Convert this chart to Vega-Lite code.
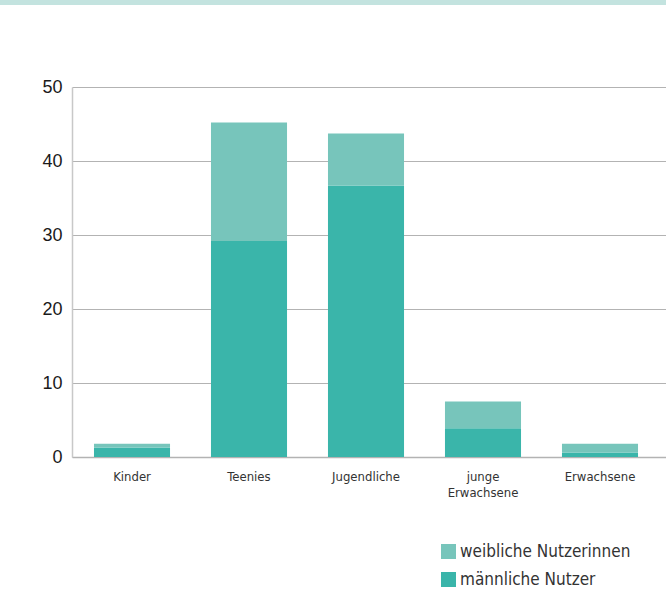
{
  "$schema": "https://vega.github.io/schema/vega-lite/v6.json",
  "autosize": {"type": "pad"},
  "padding": 0,
  "background": "white",
  "config": {
    "view": {"stroke": null},
    "font": "Liberation Sans"
  },
  "spacing": 73,
  "vconcat": [
    {
      "width": 594,
      "height": 5,
      "data": {"values": [{}]},
      "mark": {"type": "rect", "color": "#c3e3df", "clip": false},
      "encoding": {
        "x": {"datum": 0, "type": "quantitative", "scale": {"domain": [0, 1], "nice": false, "range": [-72, 594]}, "axis": null},
        "x2": {"datum": 1},
        "y": {"datum": 0, "type": "quantitative", "scale": {"domain": [0, 1], "nice": false}, "axis": null},
        "y2": {"datum": 1}
      }
    },
    {
      "width": 594,
      "height": 370,
      "data": {
        "values": [
          {"Gruppe": "Kinder", "Geschlecht": "männliche Nutzer", "Anteil": 1.3},
          {"Gruppe": "Kinder", "Geschlecht": "weibliche Nutzerinnen", "Anteil": 0.5},
          {"Gruppe": "Teenies", "Geschlecht": "männliche Nutzer", "Anteil": 29.2},
          {"Gruppe": "Teenies", "Geschlecht": "weibliche Nutzerinnen", "Anteil": 16.0},
          {"Gruppe": "Jugendliche", "Geschlecht": "männliche Nutzer", "Anteil": 36.7},
          {"Gruppe": "Jugendliche", "Geschlecht": "weibliche Nutzerinnen", "Anteil": 7.0},
          {"Gruppe": "junge Erwachsene", "Geschlecht": "männliche Nutzer", "Anteil": 3.9},
          {"Gruppe": "junge Erwachsene", "Geschlecht": "weibliche Nutzerinnen", "Anteil": 3.6},
          {"Gruppe": "Erwachsene", "Geschlecht": "männliche Nutzer", "Anteil": 0.6},
          {"Gruppe": "Erwachsene", "Geschlecht": "weibliche Nutzerinnen", "Anteil": 1.2}
        ]
      },
      "mark": {"type": "bar"},
      "encoding": {
        "x": {
          "field": "Gruppe",
          "type": "nominal",
          "sort": ["Kinder", "Teenies", "Jugendliche", "junge Erwachsene", "Erwachsene"],
          "scale": {"paddingInner": 0.35, "paddingOuter": 0.2135, "align": 0.44},
          "axis": {
            "title": null,
            "labelAngle": 0,
            "labelFont": "Liberation Sans Narrow, DejaVu Sans Condensed, sans-serif",
            "labelFontSize": 13,
            "labelColor": "#333333",
            "labelPadding": 13,
            "labelBaseline": "top",
            "labelLineHeight": 16,
            "labelExpr": "datum.label == 'junge Erwachsene' ? ['junge', 'Erwachsene'] : datum.label",
            "ticks": false,
            "domainColor": "#b3b3b3",
            "domainWidth": 1.5
          }
        },
        "y": {
          "field": "Anteil",
          "type": "quantitative",
          "stack": "zero",
          "scale": {"domain": [0, 50], "nice": false},
          "axis": {
            "title": null,
            "values": [0, 10, 20, 30, 40, 50],
            "minExtent": 72,
            "labelFontSize": 18,
            "labelColor": "#1a1a1a",
            "labelPadding": 10,
            "ticks": false,
            "domainColor": "#c8c8c8",
            "domainWidth": 1.5,
            "gridColor": "#b3b3b3",
            "gridWidth": 1.2
          }
        },
        "color": {
          "field": "Geschlecht",
          "type": "nominal",
          "scale": {
            "domain": ["weibliche Nutzerinnen", "männliche Nutzer"],
            "range": ["#77c5bb", "#3ab5aa"]
          },
          "legend": {
            "title": null,
            "orient": "none",
            "legendX": 368,
            "legendY": 543,
            "symbolType": "square",
            "symbolSize": 225,
            "symbolStrokeWidth": 0,
            "symbolOpacity": 1,
            "labelFont": "Liberation Sans Narrow, DejaVu Sans Condensed, sans-serif",
            "labelFontSize": 17,
            "labelColor": "#333333",
            "labelOffset": 3,
            "labelLimit": 300,
            "rowPadding": 10
          }
        },
        "order": {"field": "Geschlecht", "sort": "ascending"}
      }
    }
  ]
}
